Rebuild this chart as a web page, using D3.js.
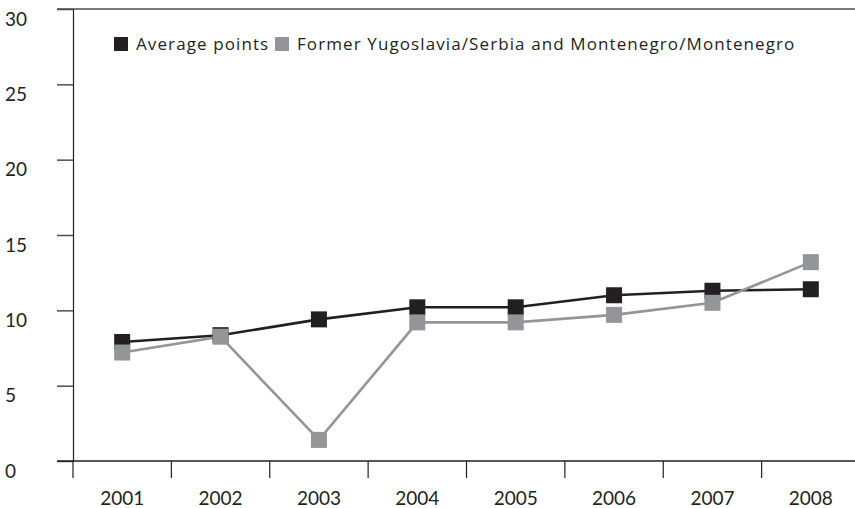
<!DOCTYPE html>
<html lang="en">
<head>
  <meta charset="UTF-8">
  <title>Average points vs Former Yugoslavia</title>
  <script src="https://d3js.org/d3.v7.min.js"></script>
  <style>
    body {
      margin: 0;
      background: #fff;
      font-family: Lato, "Open Sans", sans-serif;
    }
    svg { display: block; }
    .tick text {
      font-family: Lato, "Open Sans", sans-serif;
      font-size: 19px;
      fill: #231f20;
    }
    .legend text {
      font-family: "Open Sans", Lato, sans-serif;
      font-size: 17px;
      letter-spacing: 1.1px;
      fill: #231f20;
    }
  </style>
</head>
<body>
  <svg width="855" height="508"></svg>
  <script>
    const years = ["2001", "2002", "2003", "2004", "2005", "2006", "2007", "2008"];
    const averagePoints = [7.9, 8.35, 9.4, 10.2, 10.2, 11.0, 11.3, 11.4];
    const yugoslavia = [7.2, 8.25, 1.4, 9.2, 9.2, 9.7, 10.5, 13.2];
    const yTicks = [0, 5, 10, 15, 20, 25, 30];
    const seriesNames = ["Average points", "Former Yugoslavia/Serbia and Montenegro/Montenegro"];
    const colors = ["#231f20", "#939598"];

    const svg = d3.select("svg");
    const plotLeft = 73, plotTop = 9, plotBottom = 461, plotRight = 860;

    const x = d3.scaleBand().domain(years).range([plotLeft, plotRight]).padding(0);
    const y = d3.scaleLinear().domain([0, 30]).range([plotBottom, plotTop]);

    // top frame line
    svg.append("line")
      .attr("x1", plotLeft - 16).attr("x2", 855)
      .attr("y1", y(30)).attr("y2", y(30))
      .attr("stroke", "#4d4d4f").attr("stroke-width", 1.5);

    // y axis
    const yAxis = svg.append("g")
      .attr("transform", `translate(${plotLeft},0)`)
      .call(d3.axisLeft(y).tickValues(yTicks).tickSize(16).tickSizeOuter(0));
    yAxis.select(".domain").attr("stroke", "#231f20").attr("stroke-width", 1.2);
    yAxis.selectAll(".tick line").attr("stroke", "#4d4d4f").attr("stroke-width", 1.5);
    yAxis.selectAll(".tick text")
      .attr("x", -68).attr("dy", "0.85em")
      .attr("text-anchor", "start");

    // x axis: labels centred in bands, ticks on band edges
    const xAxis = svg.append("g")
      .attr("transform", `translate(0,${plotBottom})`)
      .call(d3.axisBottom(x).tickSize(0).tickSizeOuter(0));
    xAxis.select(".domain").remove();
    xAxis.selectAll(".tick text").attr("dy", 0).attr("y", 44);
    xAxis.append("line")
      .attr("x1", plotLeft - 16).attr("x2", 855)
      .attr("stroke", "#231f20").attr("stroke-width", 1.5);
    xAxis.selectAll(".edge")
      .data(years)
      .join("line")
      .attr("class", "edge")
      .attr("x1", d => x(d)).attr("x2", d => x(d))
      .attr("y1", 0).attr("y2", 17)
      .attr("stroke", "#231f20").attr("stroke-width", 1.2);

    const cx = d => x(d) + x.bandwidth() / 2;
    const line = d3.line()
      .x((d, i) => cx(years[i]))
      .y(d => y(d));

    const size = 16;
    [averagePoints, yugoslavia].forEach((vals, k) => {
      svg.append("path")
        .datum(vals)
        .attr("fill", "none")
        .attr("stroke", colors[k])
        .attr("stroke-width", 2.6)
        .attr("d", line);
    });
    [averagePoints, yugoslavia].forEach((vals, k) => {
      svg.append("g").selectAll("rect")
        .data(vals)
        .join("rect")
        .attr("x", (d, i) => cx(years[i]) - size / 2)
        .attr("y", d => y(d) - size / 2)
        .attr("width", size).attr("height", size)
        .attr("fill", colors[k]);
    });

    // legend
    const legend = svg.append("g").attr("class", "legend");
    const legendX = [114, 275];
    seriesNames.forEach((name, k) => {
      legend.append("rect")
        .attr("x", legendX[k]).attr("y", 37)
        .attr("width", 14).attr("height", 14)
        .attr("fill", colors[k]);
      legend.append("text")
        .attr("x", legendX[k] + 22).attr("y", 49.5)
        .text(name);
    });
  </script>
</body>
</html>
